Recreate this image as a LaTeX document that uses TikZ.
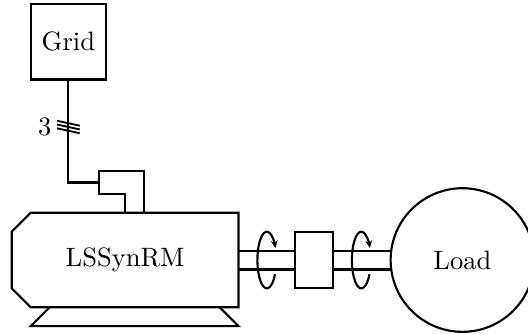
\documentclass[tikz,border=0pt]{standalone}
\usepackage{tikz}
\usetikzlibrary{arrows.meta}

\tikzset{
  myblock/.style={draw, thick, outer sep=0pt, minimum height=#1},
  myblock/.default=1cm,
  myline/.style={thick},
  myspin/.style={thick, -{Stealth[length=1mm,width=0.9mm]}}
}

\begin{document}
\begin{tikzpicture}[x=0.25cm, y=0.25cm]
    \useasboundingbox (-0.62,-1.41) rectangle (27.32,16.26);
    % machine body and feet
    \draw[myline] (1,0) -- (0,1) -- (0,4) -- (1,5) -- (12,5) -- (12,0) -- cycle;
    \draw[myline] (2,0) -- (1,-1) -- (12,-1) -- (11,0);
    \node (motor) at (6,2.5) {LSSynRM};
    \node[myblock, minimum width=1cm] (grid) at (3,14.05) {Grid};
    \node[myblock=0.75cm, minimum width=0.5cm] (coupling) at (16,2.5) {};
    \node[myblock, circle, minimum size=1.9cm] (load) at (23.85,2.5) {Load};
    % terminal box
    \draw[myline] (6,5) -- (6,6) -- (4.6,6) -- (4.6,7.2) -- (7,7.2) -- (7,5);
    \coordinate (terminal) at (4.6,6.6);
    \coordinate (shafttop) at (12,3);
    \coordinate (shaftbot) at (12,2);
    % connections
    \draw[myline] (grid.south) |- (terminal);
    \draw[myline] (shafttop) -- (coupling.west |- shafttop);
    \draw[myline] (shaftbot) -- (coupling.west |- shaftbot);
    \draw[myline] (coupling.east |- shafttop) -- (load.west |- shafttop);
    \draw[myline] (coupling.east |- shaftbot) -- (load.west |- shaftbot);
    % three phases
    \foreach \i in {0,1,2}{
      \draw[line width=0.7pt, yshift=-\i*0.05cm] (2.4,9.87) -- (3.6,9.61);
    }
    \node[left] (phases) at (2.6,9.52) {3};
    % rotation
    \foreach \x in {13.5,18.5}{
      \draw[myspin] ({\x+0.5*cos(30)},1.75) arc[start angle=-30, end angle=-335, x radius=0.5, y radius=1.5];
    }
\end{tikzpicture}
\end{document}
